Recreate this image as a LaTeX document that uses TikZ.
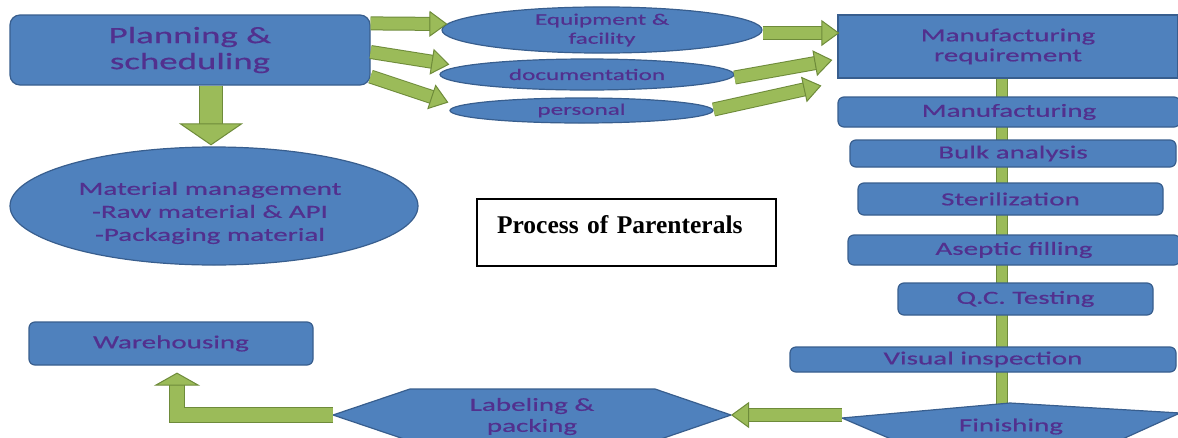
\documentclass[tikz,border=0pt]{standalone}
\usepackage{fontspec}
\newfontfamily\flowfont[FakeStretch=1.57,FakeBold=0.6]{Carlito}
\newfontfamily\titlefont{Liberation Serif}
\usepackage{xcolor}
\definecolor{cBox}{HTML}{4F81BD}
\definecolor{cBoxLine}{HTML}{385E8E}
\definecolor{cText}{HTML}{52308E}
\definecolor{cArrow}{HTML}{9BBB59}
\definecolor{cArrowLine}{HTML}{6E8B3A}
\usepackage{tikz}
\usetikzlibrary{positioning,arrows.meta,shapes.geometric,calc,backgrounds}
\tikzset{
  node-box/.style={draw=cBoxLine,fill=cBox,line width=1.2pt,rounded corners=6pt,
    inner sep=0pt,align=center,text=cText,font=\flowfont\fontsize{18.5}{20}\selectfont},
  node-oval/.style={node-box,ellipse,font=\flowfont\fontsize{16}{19}\selectfont},
  node-shape/.style={draw=cBoxLine,fill=cBox,line width=1.2pt,line join=round},
  node-text/.style={inner sep=0pt,align=center,text=cText,
    font=\flowfont\fontsize{18.5}{22}\selectfont},
  node-title/.style={draw=black,line width=1.5pt,inner xsep=20pt,inner ysep=0pt,
    text width=259pt,align=left,font=\titlefont\bfseries\fontsize{25.5}{28}\selectfont},
  % block arrows: light body, darker rim
  arrow/.style={draw=cArrow,line width=12pt,
    -{Triangle[length=18pt,width=26pt,line width=1pt,fill=cArrow,color=cArrowLine]},
    preaction={draw=cArrowLine,line width=14pt,arrows=-,shorten >=12pt}},
  arrow-fat/.style={draw=cArrow,line width=22pt,
    -{Triangle[length=22pt,width=64pt,line width=1pt,fill=cArrow,color=cArrowLine]},
    preaction={draw=cArrowLine,line width=24pt,arrows=-,shorten >=14pt}},
  arrow-bend/.style={draw=cArrow,line width=14pt,
    -{Triangle[length=13pt,width=46pt,line width=1pt,fill=cArrow,color=cArrowLine]},
    preaction={draw=cArrowLine,line width=16pt,arrows=-,shorten >=8pt}},
  spine/.style={draw=cArrow,line width=10pt,
    preaction={draw=cArrowLine,line width=12pt}},
}

\begin{document}
\begin{tikzpicture}[x=1pt,y=-1pt]
  \useasboundingbox (0,0) rectangle (1178,437);

  % planning side
  \node[node-box,rounded corners=10pt,minimum width=360pt,minimum height=70pt,
    font=\flowfont\fontsize{23.5}{26}\selectfont] (plan) at (190,50) {Planning \&\\scheduling};
  \node[node-oval,minimum width=320pt,minimum height=44pt] (equip) at (602,30) {Equipment \&\\facility};
  \node[node-oval,minimum width=294pt,minimum height=31pt] (docu) at (587,74.5) {documentation};
  \node[node-oval,minimum width=263pt,minimum height=25pt] (pers) at (581.5,110.5) {personal};
  \node[node-oval,minimum width=408pt,minimum height=118pt] (matm) at (214,206) {};
  \node[node-text,font=\flowfont\fontsize{18.5}{23}\selectfont] (matm-txt) at (210,213)
    {Material management\\-Raw material \& API\\-Packaging material};

  % production column
  \node[node-box,sharp corners,minimum width=340pt,minimum height=63pt] (mreq) at (1008,46.5) {Manufacturing\\requirement};
  \node[node-box,minimum width=342pt,minimum height=30pt] (manu) at (1009,112) {Manufacturing};
  \node[node-box,minimum width=326pt,minimum height=27pt] (bulk) at (1013,153.5) {Bulk analysis};
  \node[node-box,minimum width=305pt,minimum height=32pt] (steri) at (1010.5,199) {Sterilization};
  \node[node-box,minimum width=332pt,minimum height=30pt] (asep) at (1014,250) {Aseptic filling};
  \node[node-box,minimum width=255pt,minimum height=32pt] (qct) at (1025.5,299) {Q.C. Testing};
  \node[node-box,minimum width=386pt,minimum height=25pt] (visi) at (983,359.5) {Visual inspection};
  \node[node-box,minimum width=284pt,minimum height=43pt] (ware) at (171,343.5) {Warehousing};

  \node[node-title,minimum height=67pt,text height=17pt,text depth=16pt] (title) at (626.5,232.5)
    {Process of Parenterals};

  % finishing and labeling shapes
  \coordinate (fin-w) at (842,418);
  \coordinate (fin-n) at (1010,403);
  \draw[node-shape] (fin-w) -- (fin-n) -- (1180,413) -- (1010,490) -- cycle;
  \node[node-text] (fin) at (1011,426.5) {Finishing};
  \coordinate (lab-w) at (333,415);
  \coordinate (lab-e) at (731,415);
  \draw[node-shape] (lab-w) -- (410,389) -- (655,389) -- (lab-e) -- (655,441) -- (410,441) -- cycle;
  \node[node-text,font=\flowfont\fontsize{18.5}{21}\selectfont] (lab) at (532,416.5) {Labeling \&\\packing};

  \begin{scope}[on background layer]
    \fill[white] (0,0) rectangle (1178,437);
    \draw[spine] ($(mreq.south)+(-6,0)$) -- ($(fin-n)+(-8,3)$);
  \end{scope}

  % connectors
  \draw[arrow] ($(plan.north east)+(0,9)$) -- ($(equip.west)+(6,-6)$);
  \draw[arrow] ($(plan.east)+(0,2)$) -- ($(docu.west)+(10,-10)$);
  \draw[arrow] ($(plan.south east)+(0,-9)$) -- ($(pers.west)+(-1,-8)$);
  \draw[arrow] ($(equip.east)+(0,3)$) -- ($(mreq.west)+(2,-13.5)$);
  \draw[arrow] ($(docu.east)+(0,3)$) -- ($(mreq.west)+(-5,13.5)$);
  \draw[arrow] ($(pers.east)+(0,-1)$) -- ($(mreq.south west)+(-16,7)$);
  \draw[arrow-fat] ($(plan.south)+(21,0)$) -- ($(matm.north)+(-3,-1)$);
  \draw[arrow] (fin-w |- lab-e) -- (lab-e);
  \draw[arrow-bend] (lab-w) -| ($(ware.south)+(6,7)$);
\end{tikzpicture}
\end{document}
